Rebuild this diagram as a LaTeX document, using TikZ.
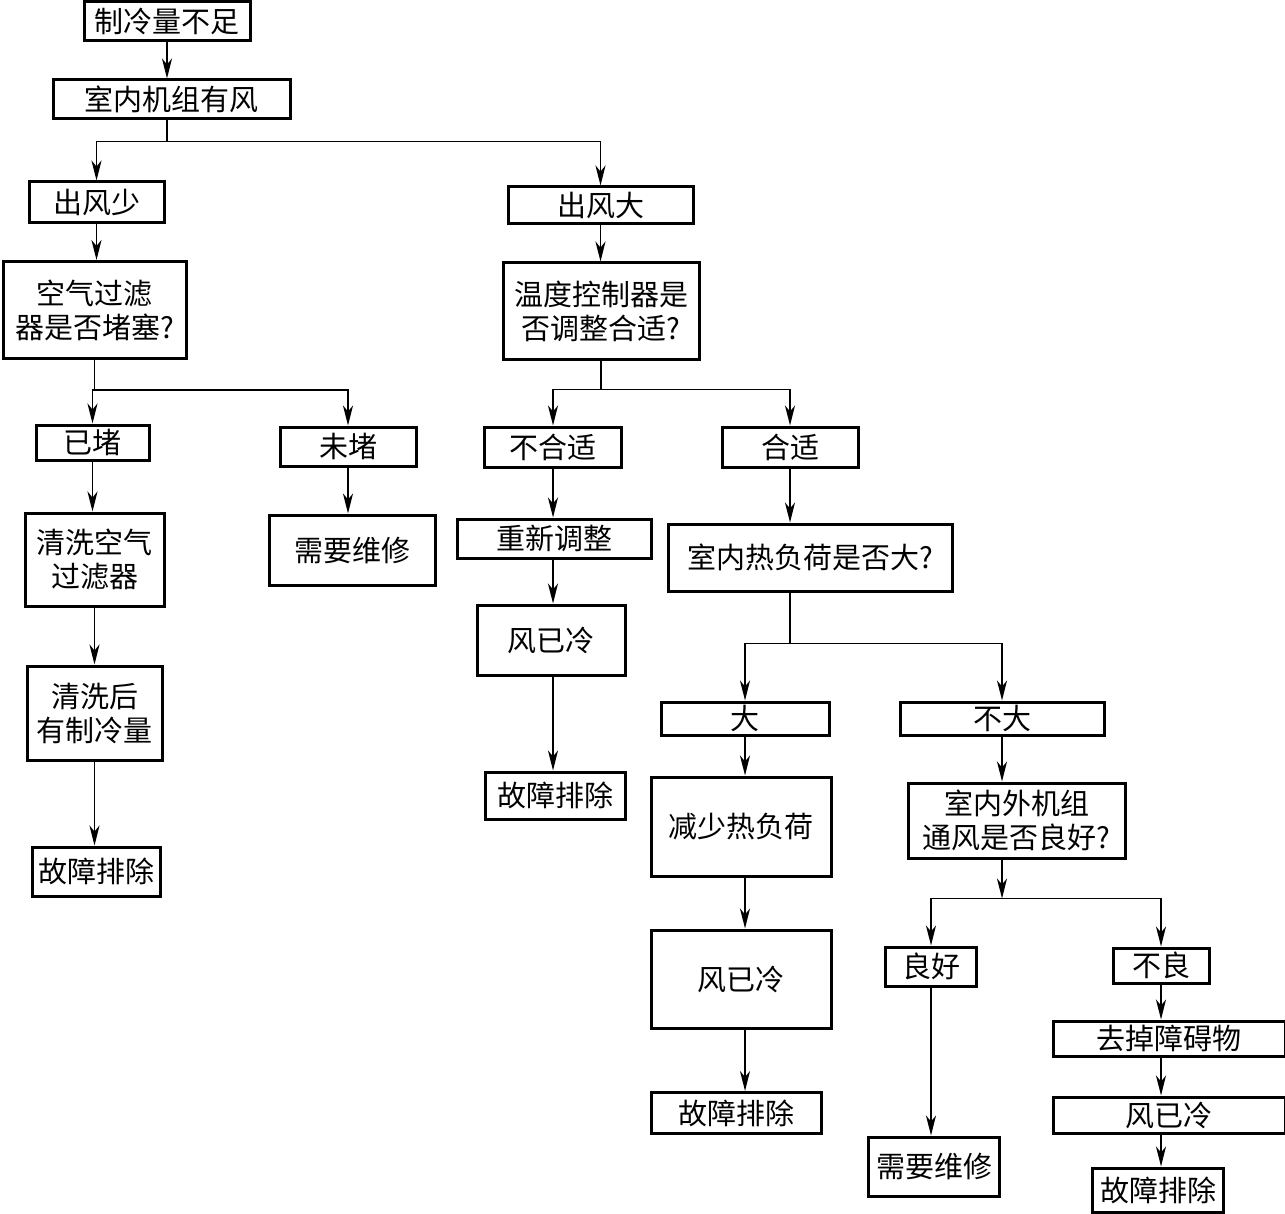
\documentclass[tikz,border=0pt]{standalone}
\usepackage{fontspec}
\setmainfont{Noto Sans CJK SC}
\usetikzlibrary{arrows.meta}

\begin{document}
\begin{tikzpicture}[x=1pt,y=-1pt,
  box/.style 2 args={draw,line width=3pt,inner sep=0pt,align=center,
    minimum width=#1pt,minimum height=#2pt,font=\fontsize{29}{34}\selectfont},
  arr/.style={-{Stealth[length=20pt,width=10pt,inset=6pt]},line width=1.9pt}]
\useasboundingbox (0,0) rectangle (1285,1214);

% top
\node[box={166}{39}] (zl) at (167,21.5) {制冷量不足};
\node[box={237}{39}] (yf) at (171.5,99.5) {室内机组有风};

% left branch
\node[box={135}{41}] (cfs) at (96.5,202.5) {出风少};
\node[box={183}{97}] (kq) at (94.5,310) {空气过滤\\器是否堵塞?};
\node[box={113}{35}] (yd) at (92.5,442.5) {已堵};
\node[box={136}{39}] (wd) at (348,446.5) {未堵};
\node[box={139}{93}] (qx) at (94.5,559.5) {清洗空气\\过滤器};
\node[box={166}{70}] (wx1) at (352,550) {需要维修};
\node[box={135}{94}] (qxh) at (94.5,713) {清洗后\\有制冷量};
\node[box={128}{49}] (gz1) at (96,871.5) {故障排除};

% right branch
\node[box={185}{37}] (cfd) at (600.5,205.5) {出风大};
\node[box={196}{97}] (wk) at (601,311.5) {温度控制器是\\否调整合适?};
\node[box={137}{40}] (bhs) at (553,447) {不合适};
\node[box={136}{40}] (hs) at (790,447) {合适};
\node[box={194}{39}] (cx) at (554,538.5) {重新调整};
\node[box={148}{70}] (fl1) at (551,640) {风已冷};
\node[box={140}{47}] (gz2) at (555,795.5) {故障排除};
\node[box={284}{67}] (rf) at (810,557.5) {室内热负荷是否大?};

% heat load
\node[box={168}{33}] (da) at (745,718.5) {大};
\node[box={204}{33}] (bd) at (1002,718.5) {不大};
\node[box={180}{99}] (js) at (741,826.5) {减少热负荷};
\node[box={217}{75}] (tf) at (1016.5,820.5) {室内外机组\\通风是否良好?};
\node[box={180}{98}] (fl2) at (741,979) {风已冷};
\node[box={170}{41}] (gz3) at (736.5,1113) {故障排除};

% ventilation
\node[box={91}{39}] (lh) at (931,966.5) {良好};
\node[box={96}{35}] (bl) at (1161,965.5) {不良};
\node[box={131}{59}] (wx2) at (934,1166.5) {需要维修};
\node[box={232}{35}] (qc) at (1169,1038.5) {去掉障碍物};
\node[box={232}{36}] (fl3) at (1169,1115) {风已冷};
\node[box={131}{44}] (gz4) at (1158,1190) {故障排除};

\draw[arr] (zl) -- (zl |- yf.north);
\draw[arr] (yf.south -| zl) -- ++(0,21) -| (cfs);
\draw[arr] (yf.south -| zl) -- ++(0,21) -| (cfd);

\draw[arr] (cfs) -- (cfs |- kq.north);
\draw[arr] (kq.south) -- ++(0,30) -| (yd);
\draw[arr] (kq.south) -- ++(0,30) -| (wd);
\draw[arr] (yd) -- (yd |- qx.north);
\draw[arr] (wd) -- (wd |- wx1.north);
\draw[arr] (qx) -- (qx |- qxh.north);
\draw[arr] (qxh) -- (qxh |- gz1.north);

\draw[arr] (cfd) -- (cfd |- wk.north);
\draw[arr] (wk.south) -- ++(0,28) -| (bhs);
\draw[arr] (wk.south) -- ++(0,28) -| (hs);
\draw[arr] (bhs) -- (bhs |- cx.north);
\draw[arr] (cx.south -| bhs) -- (bhs |- fl1.north);
\draw[arr] (fl1.south -| bhs) -- (bhs |- gz2.north);
\draw[arr] (hs) -- (hs |- rf.north);

\draw[arr] (rf.south -| hs) -- ++(0,51) -| (da);
\draw[arr] (rf.south -| hs) -- ++(0,51) -| (bd);
\draw[arr] (da) -- (da |- js.north);
\draw[arr] (js.south -| da) -- (da |- fl2.north);
\draw[arr] (fl2.south -| da) -- (da |- gz3.north);
\draw[arr] (bd) -- (bd |- tf.north);

\draw[arr] (tf.south -| bd) -- ++(0,39) coordinate (tfj);
\draw[arr] (tfj) -| (lh);
\draw[arr] (tfj) -| (bl);
\draw[arr] (lh) -- (lh |- wx2.north);
\draw[arr] (bl) -- (bl |- qc.north);
\draw[arr] (qc.south -| bl) -- (bl |- fl3.north);
\draw[arr] (fl3.south -| bl) -- (bl |- gz4.north);

\end{tikzpicture}
\end{document}
